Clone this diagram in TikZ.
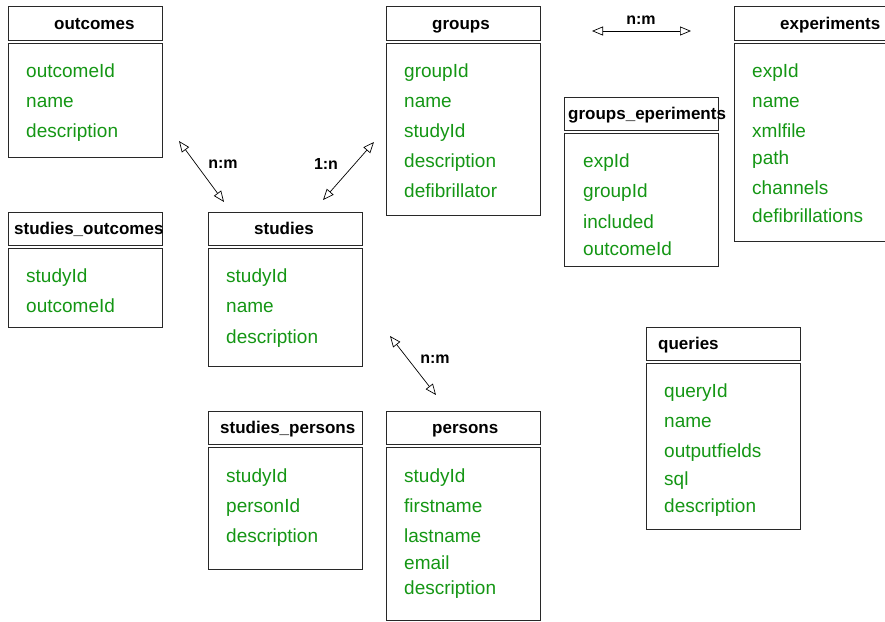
\documentclass[tikz,border=0pt]{standalone}
\usepackage{fontspec}
\setmainfont{Liberation Sans}
\usetikzlibrary{arrows.meta}
\definecolor{fieldgreen}{RGB}{20,150,20}
\definecolor{frame}{RGB}{40,40,40}
\tikzset{
  boxpart/.style={draw=frame, line width=0.9pt},
  tabletitle/.style={anchor=base west, inner sep=0pt, font=\fontsize{17}{19}\selectfont\bfseries},
  field/.style={anchor=base west, inner sep=0pt, text=fieldgreen, font=\fontsize{19}{21}\selectfont},
  rel/.style={draw=black, line width=0.7pt, {Triangle[open,length=11pt,width=9pt]}-{Triangle[open,length=11pt,width=9pt]}},
  card/.style={inner sep=0pt, font=\fontsize{16}{18}\selectfont\bfseries}
}
% one table: header box, body box and title
% #1 name, #2 left x, #3 header top, #4 header bottom, #5 body bottom, #6 title x, #7 title text
\newcommand{\dbtable}[7]{%
  \node[boxpart, minimum width=154pt, minimum height={#4-#3}, anchor=north west, inner sep=0pt] (#1head) at (#2,#3) {};
  \node[boxpart, minimum width=154pt, minimum height={#5-#4-3}, anchor=north west, inner sep=0pt] (#1body) at (#2,#4+3) {};
  \node[tabletitle] (#1title) at (#6,{(#3+#4)/2+6}) {#7};
}
\begin{document}
\begin{tikzpicture}[x=1pt,y=-1pt]
\useasboundingbox (0,0) rectangle (885,621);
\begin{scope}
\clip (0,0) rectangle (885,621);

% tables (field positions are baselines)
\dbtable{outcomes}{8}{6}{40}{157}{54}{outcomes}
\node[field] (oc1) at (26,77) {outcomeId};
\node[field] (oc2) at (26,107) {name};
\node[field] (oc3) at (26,137) {description};

\dbtable{groups}{386}{6}{40}{215}{432}{groups}
\node[field] (gr1) at (404,77) {groupId};
\node[field] (gr2) at (404,107) {name};
\node[field] (gr3) at (404,137) {studyId};
\node[field] (gr4) at (404,167) {description};
\node[field] (gr5) at (404,197) {defibrillator};

\dbtable{experiments}{734}{6}{40}{241}{780}{experiments}
\node[field] (ex1) at (752,77) {expId};
\node[field] (ex2) at (752,107) {name};
\node[field] (ex3) at (752,137) {xmlfile};
\node[field] (ex4) at (752,164) {path};
\node[field] (ex5) at (752,194) {channels};
\node[field] (ex6) at (752,222) {defibrillations};

\dbtable{ge}{564}{97}{130}{266}{568}{groups\_eperiments}
\node[field] (ge1) at (583,167) {expId};
\node[field] (ge2) at (583,197) {groupId};
\node[field] (ge3) at (583,228) {included};
\node[field] (ge4) at (583,255) {outcomeId};

\dbtable{so}{8}{212}{245}{327}{14}{studies\_outcomes}
\node[field] (so1) at (26,282) {studyId};
\node[field] (so2) at (26,312) {outcomeId};

\dbtable{studies}{208}{212}{245}{366}{254}{studies}
\node[field] (st1) at (226,282) {studyId};
\node[field] (st2) at (226,312) {name};
\node[field] (st3) at (226,343) {description};

\dbtable{queries}{646}{327}{360}{529}{658}{queries}
\node[field] (qu1) at (664,397) {queryId};
\node[field] (qu2) at (664,427) {name};
\node[field] (qu3) at (664,457) {outputfields};
\node[field] (qu4) at (664,485) {sql};
\node[field] (qu5) at (664,512) {description};

\dbtable{sp}{208}{411}{444}{569}{220}{studies\_persons}
\node[field] (sp1) at (226,482) {studyId};
\node[field] (sp2) at (226,512) {personId};
\node[field] (sp3) at (226,542) {description};

\dbtable{persons}{386}{411}{444}{620}{432}{persons}
\node[field] (pe1) at (404,482) {studyId};
\node[field] (pe2) at (404,512) {firstname};
\node[field] (pe3) at (404,542) {lastname};
\node[field] (pe4) at (404,569) {email};
\node[field] (pe5) at (404,594) {description};
\end{scope}

% relationship arrows
\coordinate (r1a) at (179,141);
\coordinate (r1b) at (224,202);
\draw[rel] (r1a) -- (r1b);
\node[card] (r1) at (223,164) {n:m};

\coordinate (r2a) at (323,200);
\coordinate (r2b) at (374,142);
\draw[rel] (r2a) -- (r2b);
\node[card] (r2) at (326,164) {1:n};

\coordinate (r3a) at (592,31);
\coordinate (r3b) at (691,31);
\draw[rel] (r3a) -- (r3b);
\node[card] (r3) at (641,20) {n:m};

\coordinate (r4a) at (390,336);
\coordinate (r4b) at (436,395);
\draw[rel] (r4a) -- (r4b);
\node[card] (r4) at (435,359) {n:m};
\end{tikzpicture}
\end{document}
